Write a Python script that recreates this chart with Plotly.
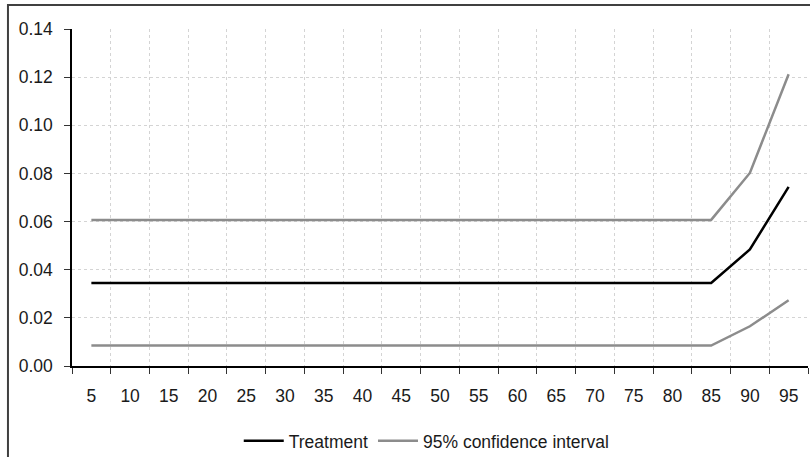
import plotly.graph_objects as go

categories = ["5", "10", "15", "20", "25", "30", "35", "40", "45", "50",
              "55", "60", "65", "70", "75", "80", "85", "90", "95"]
treatment = [0.0345] * 17 + [0.0484, 0.0744]
ci_upper = [0.0607] * 17 + [0.0802, 0.1212]
ci_lower = [0.0085] * 17 + [0.0165, 0.0273]
y_ticks = [0.00, 0.02, 0.04, 0.06, 0.08, 0.10, 0.12, 0.14]

xpos = list(range(len(categories)))
font = dict(family="Liberation Sans, Arial, sans-serif", size=17.5, color="#1a1a1a")

fig = go.Figure()
fig.add_trace(go.Scatter(x=xpos, y=treatment, mode="lines", name="Treatment",
                         line=dict(color="#000000", width=2.5)))
fig.add_trace(go.Scatter(x=xpos, y=ci_upper, mode="lines", name="95% confidence interval",
                         line=dict(color="#8c8c8c", width=2.5), legendgroup="ci"))
fig.add_trace(go.Scatter(x=xpos, y=ci_lower, mode="lines", name="95% confidence interval",
                         line=dict(color="#8c8c8c", width=2.5), legendgroup="ci",
                         showlegend=False))

fig.update_layout(
    width=810, height=457,
    margin=dict(l=72, r=2, t=29, b=91, autoexpand=False),
    paper_bgcolor="white", plot_bgcolor="white",
    font=font,
    showlegend=True,
    legend=dict(orientation="h", x=0.482, xanchor="center", y=-0.222, yanchor="middle",
                font=font, bgcolor="rgba(0,0,0,0)", itemwidth=40),
    shapes=[dict(type="rect", xref="paper", yref="paper",
                 x0=-0.087, x1=1.01, y0=-0.5, y1=1.0713,
                 line=dict(color="#404040", width=2), layer="below")],
)
fig.update_xaxes(
    range=[-0.5, len(categories) - 0.5],
    tickmode="array", tickvals=xpos, ticktext=categories,
    ticks="", showgrid=False, zeroline=False, automargin=False,
    showline=True, linecolor="#000000", linewidth=1.5,
    ticklabelstandoff=13,
    minor=dict(tickmode="linear", tick0=-0.5, dtick=1, ticks="outside", ticklen=6,
               tickcolor="#333333", tickwidth=1,
               showgrid=True, gridcolor="#d4d4d4", griddash="dot", gridwidth=1),
)
fig.update_yaxes(
    range=[0, 0.14], tickmode="array", tickvals=y_ticks,
    ticktext=[f"{v:.2f}" for v in y_ticks],
    ticks="outside", ticklen=6, tickcolor="#333333", tickwidth=1,
    showgrid=True, gridcolor="#d4d4d4", griddash="dot", gridwidth=1,
    zeroline=False, showline=True, linecolor="#000000", linewidth=1.5,
    ticklabelstandoff=8, automargin=False,
)

fig.write_html("out.html")
